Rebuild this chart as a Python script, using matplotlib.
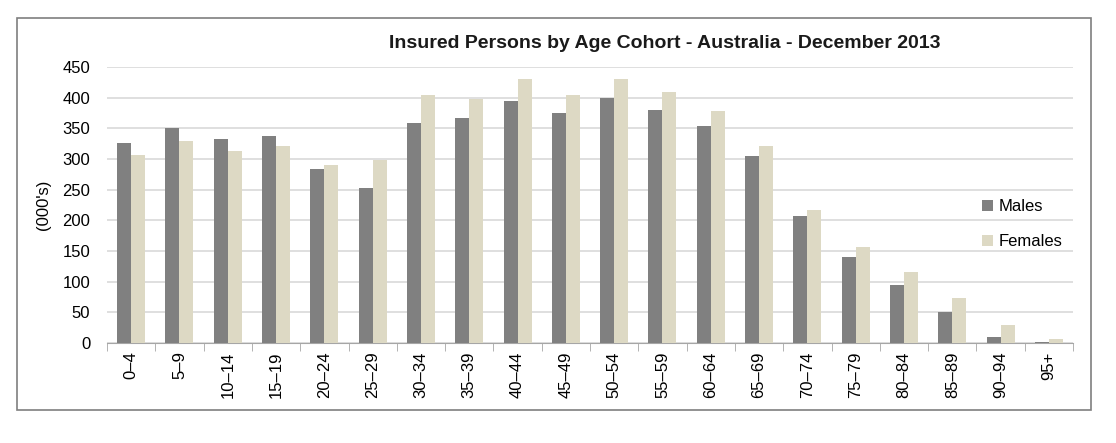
import numpy as np
import matplotlib.pyplot as plt
from matplotlib.patches import Rectangle

plt.rcParams['font.family'] = ['Liberation Sans Narrow', 'Liberation Sans', 'DejaVu Sans']

cohorts = ["0–4", "5–9", "10–14", "15–19", "20–24", "25–29", "30–34", "35–39",
           "40–44", "45–49", "50–54", "55–59", "60–64", "65–69", "70–74", "75–79",
           "80–84", "85–89", "90–94", "95+"]
males = [326, 350, 332, 338, 283, 253, 358, 367, 395, 375, 400, 380, 354, 305,
         207, 140, 95, 50, 10, 1]
females = [306, 330, 313, 321, 290, 298, 404, 398, 430, 404, 430, 410, 378, 321,
           217, 157, 116, 73, 29, 6]

fig = plt.figure(figsize=(11.16, 4.43), dpi=100)
# outer chart border
fig.patches.append(Rectangle((17 / 1116, 1 - 410 / 443), (1091 - 17) / 1116, (410 - 18) / 443,
                             transform=fig.transFigure, fill=False, edgecolor='#7f7f7f', lw=1.2))

ax = fig.add_axes([107 / 1116, 1 - 343 / 443, (1073 - 107) / 1116, (343 - 67) / 443])
x = np.arange(len(cohorts))
w = 0.29
ax.bar(x - w / 2, males, w, color='#808080', label='Males', zorder=3)
ax.bar(x + w / 2, females, w, color='#DDD9C4', label='Females', zorder=3)

ax.set_xlim(-0.5, len(cohorts) - 0.5)
ax.set_ylim(0, 450)
ax.set_yticks(range(0, 451, 50))
ax.yaxis.grid(True, color='#d9d9d9', lw=1.2, zorder=0)
ax.tick_params(axis='y', length=0, labelsize=12, pad=12)
for s in ['top', 'right', 'left']:
    ax.spines[s].set_visible(False)
ax.spines['bottom'].set_color('#a6a6a6')

ax.set_xticks(x)
ax.set_xticklabels(cohorts, rotation=90, fontsize=12)
ax.tick_params(axis='x', length=0, pad=6)
ax.set_xticks(np.arange(-0.5, len(cohorts)), minor=True)
ax.tick_params(axis='x', which='minor', length=6, color='#a6a6a6', direction='out')

ax.set_ylabel("(000's)", fontsize=12, labelpad=8)
fig.text(665 / 1116, 1 - 43 / 443, "Insured Persons by Age Cohort - Australia - December 2013",
         ha='center', va='center', fontsize=14, fontweight='bold', color='#1a1a1a')

ax.legend(loc='center left', bbox_to_anchor=(0.89, 0.43), frameon=False, fontsize=12,
          handlelength=0.7, handleheight=0.7, handletextpad=0.3, labelspacing=1.2)

fig.savefig('out.png', dpi=100, facecolor='white')
